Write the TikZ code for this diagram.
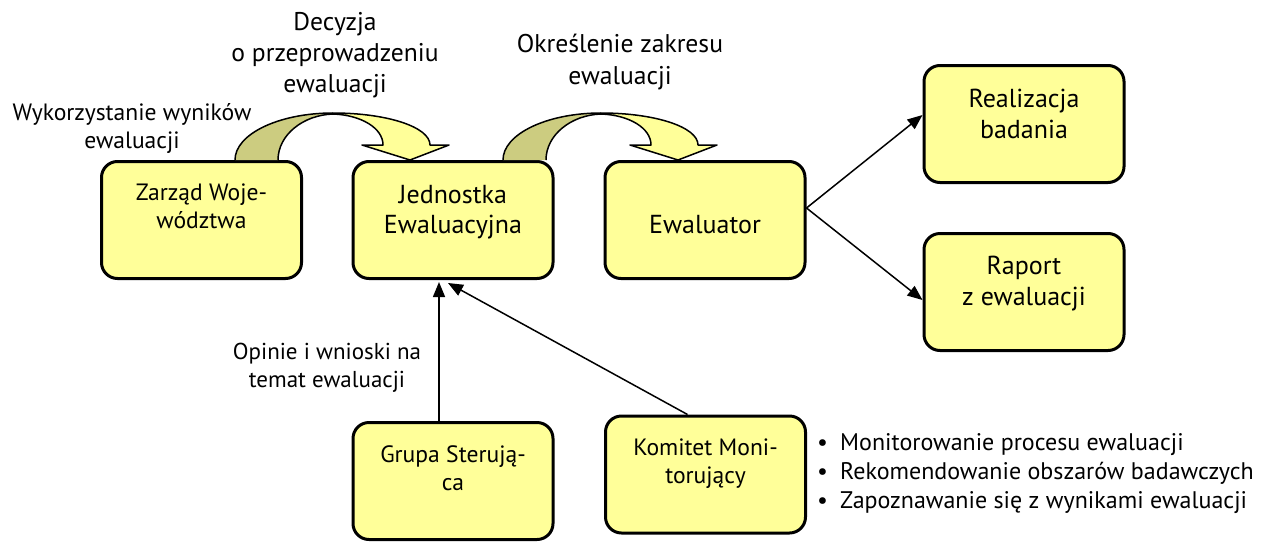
\documentclass[tikz,border=0pt]{standalone}
\usepackage{fontspec}
\setmainfont{PT Sans}
\usetikzlibrary{arrows.meta,calc}
\definecolor{boxfill}{RGB}{255,255,153}
\definecolor{darkband}{RGB}{204,204,128}
\tikzset{
  box/.style={draw=black,line width=3pt,fill=boxfill,rounded corners=16pt,minimum width=200pt,minimum height=117pt,inner sep=0pt},
  txt/.style={align=center,inner sep=0pt,anchor=base},
  big/.style={font=\fontsize{26}{31}\selectfont},
  mid/.style={font=\fontsize{23.6}{28}\selectfont},
  arr/.style={line width=1.5pt,-{Triangle[length=15pt,width=12pt]}},
  band/.style={draw=black,line width=1.5pt,line join=round}
}
\begin{document}
\begin{tikzpicture}[x=1pt,y=-1pt]
\useasboundingbox (0,0) rectangle (1265,541);
% boxes
\node[box] (zw) at (201.5,220) {};
\node[box] (je) at (453,220) {};
\node[box] (ew) at (705,220) {};
\node[box] (re) at (1024,124) {};
\node[box] (ra) at (1024,292) {};
\node[box] (gs) at (453,481) {};
\node[box] (km) at (705.5,474.5) {};
% box texts (anchored at the baseline of the last line)
\node[txt,mid] (zwt) at (201.5,228) {Zarząd Woje-\\wództwa};
\node[txt,big,font=\fontsize{26}{30}\selectfont] (jet) at (453,233) {Jednostka\\Ewaluacyjna};
\node[txt,big] (ewt) at (705,233) {Ewaluator};
\node[txt,big] (ret) at (1024,138) {Realizacja\\badania};
\node[txt,big] (rat) at (1024,305) {Raport\\z ewaluacji};
\node[txt,mid] (gst) at (453,490) {Grupa Sterują-\\ca};
\node[txt,mid] (kmt) at (705.5,483) {Komitet Moni-\\torujący};
% curved arrows
\foreach \dx in {0,268}{
\begin{scope}[shift={(\dx,0)}]
\fill[darkband] (235,160) .. controls (235,134) and (279,113) .. (333,113)
  .. controls (303,115) and (278,135) .. (278,160) -- cycle;
\draw[band] (235,160) .. controls (235,134) and (279,113) .. (333,113);
\draw[band] (278,160) .. controls (278,135) and (303,115) .. (333,114);
\filldraw[band,fill=boxfill] (333,113) .. controls (387,113) and (430,127) .. (430,145)
  -- (449,145) -- (410,160) -- (362,145) -- (383,145)
  .. controls (383,128) and (361,115) .. (333,114) -- cycle;
\end{scope}}
% labels
\node[txt,font=\fontsize{25.6}{31}\selectfont] (l1) at (335,92) {Decyzja\\o przeprowadzeniu\\ewaluacji};
\node[txt,font=\fontsize{23.6}{28}\selectfont] (l2) at (132,148) {Wykorzystanie wyników\\ewaluacji};
\node[txt,font=\fontsize{25.6}{32}\selectfont] (l3) at (620,84) {Określenie zakresu\\ewaluacji};
\node[txt,font=\fontsize{23}{28}\selectfont] (l4) at (327,387) {Opinie i wnioski na\\temat ewaluacji};
\node[align=left,inner sep=0pt,anchor=base west,font=\fontsize{24}{29}\selectfont] (bl) at (817,508)
  {\makebox[23pt][l]{\textbullet}Monitorowanie procesu ewaluacji\\
   \makebox[23pt][l]{\textbullet}Rekomendowanie obszarów badawczych\\
   \makebox[23pt][l]{\textbullet}Zapoznawanie się z wynikami ewaluacji};
% connectors
\draw[arr] ([yshift=12pt]ew.east) -- ([yshift=9pt]re.west);
\draw[arr] ([yshift=12pt]ew.east) -- ([yshift=-8pt]ra.west);
\draw[arr] ([xshift=-14pt]gs.north) -- ([xshift=-14pt,yshift=-2pt]je.south);
\draw[arr] ([xshift=-18pt]km.north) -- ([xshift=-5pt,yshift=-3pt]je.south);
\end{tikzpicture}
\end{document}
